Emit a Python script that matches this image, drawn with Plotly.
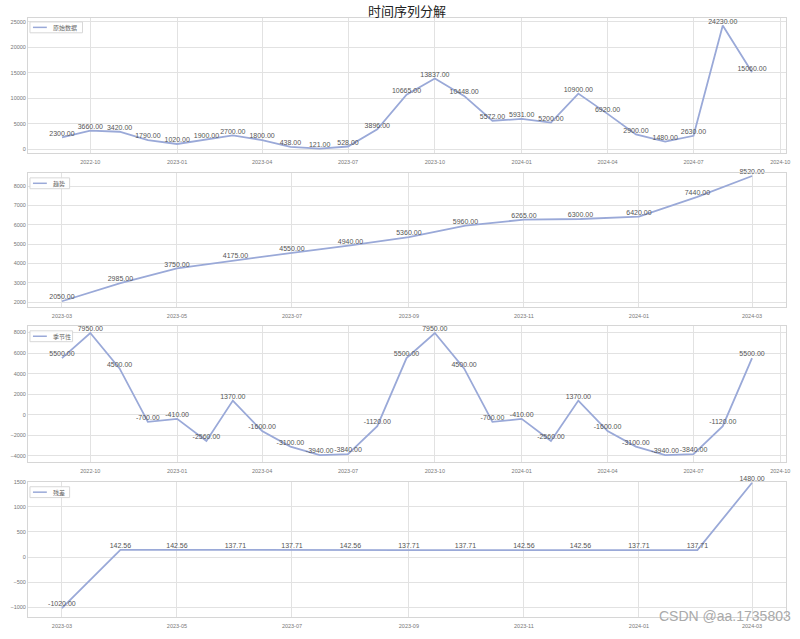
import pandas as pd
import plotly.graph_objects as go

# ---------------- data ----------------
months_full = pd.date_range("2022-09-01", periods=25, freq="MS")
months_mid = pd.date_range("2023-03-01", periods=13, freq="MS")

original = [2300, 3660, 3420, 1790, 1020, 1900, 2700, 1800, 438, 121, 528, 3896,
            10665, 13837, 10448, 5572, 5931, 5200, 10900, 6920, 2900, 1480, 2630,
            24230, 15060]
trend = [2050, 2985, 3750, 4175, 4550, 4940, 5360, 5960, 6265, 6300, 6420, 7440, 8520]
seasonal = [5500, 7950, 4500, -700, -410, -2560, 1370, -1600, -3100, -3940, -3840, -1120,
            5500, 7950, 4500, -700, -410, -2560, 1370, -1600, -3100, -3940, -3840, -1120,
            5500]
residual = [-1020, 142.56, 142.56, 137.71, 137.71, 142.56, 137.71, 137.71, 142.56,
            142.56, 137.71, 137.71, 1480]

names = ["原始数据", "趋势", "季节性", "残差"]

# ---------------- style ----------------
LINE = "#9aa9d8"
GRID = "#e2e2e2"
FRAME = "#d6d6d6"
TXT = "#555555"
TICKF = dict(family="Liberation Sans", size=5.5, color="#777777")

W, H = 800, 639
# plot area in screenshot pixels: x 25..790, y 18..625
ML, MT = 25, 18
MR = W - 790
MB = H - 625
PW, PH = W - ML - MR, H - MT - MB


def px(xs):
    return (xs - ML) / PW


def py(ys):
    return (H - MB - ys) / PH


series = [
    (months_full, original, names[0]),
    (months_mid, trend, names[1]),
    (months_full, seasonal, names[2]),
    (months_mid, residual, names[3]),
]

domains = [[py(155), 1.0], [py(311), py(175)], [py(468), py(330)], [0.0, py(488)]]
y_ranges = [[-780, 25700], [1745, 8680], [-4610, 8640], [-1196, 1500]]
y_dticks = [5000, 1000, 2000, 500]
x_ranges = [["2022-07-27", "2024-10-07"], ["2023-02-11", "2024-03-19"],
            ["2022-07-27", "2024-10-07"], ["2023-02-11", "2024-03-19"]]
x_tick0 = ["2022-10-01", "2023-03-01", "2022-10-01", "2023-03-01"]
x_dtick = ["M3", "M2", "M3", "M2"]
# legend boxes (screenshot pixels): left, right, top, bottom
leg_boxes = [(27, 80, 22, 33), (27, 67, 180, 191), (27, 70, 335, 346), (27, 67, 493, 504)]

fig = go.Figure()
layout = {}
shapes = []
annotations = []
for i, (xs, ys, nm) in enumerate(series):
    k = "" if i == 0 else str(i + 1)
    fig.add_trace(go.Scatter(
        x=xs, y=ys, name=nm, mode="lines+text",
        line=dict(color=LINE, width=1.8),
        texttemplate="%{y:.2f}", textposition="top center",
        textfont=dict(family="Liberation Sans", size=7, color=TXT),
        cliponaxis=False, hoverinfo="skip",
        xaxis="x" + k, yaxis="y" + k,
        showlegend=False,
    ))
    layout["xaxis" + k] = dict(
        domain=[0, 1], anchor="y" + k, type="date",
        range=x_ranges[i], tick0=x_tick0[i], dtick=x_dtick[i],
        tickformat="%Y-%m", tickfont=TICKF, ticks="", ticklabelstandoff=3,
        showgrid=True, gridcolor=GRID, gridwidth=1,
        showline=True, mirror=True, linecolor=FRAME, linewidth=1,
        zeroline=False,
    )
    layout["yaxis" + k] = dict(
        domain=domains[i], anchor="x" + k,
        range=y_ranges[i], tick0=0, dtick=y_dticks[i], tickformat="d",
        tickfont=TICKF, ticks="",
        showgrid=True, gridcolor=GRID, gridwidth=1,
        showline=True, mirror=True, linecolor=FRAME, linewidth=1,
        zeroline=False,
    )
    l, r, t, b = leg_boxes[i]
    shapes.append(dict(type="rect", xref="paper", yref="paper",
                       x0=px(l), x1=px(r), y0=py(b), y1=py(t),
                       line=dict(color="#d8d8d8", width=1),
                       fillcolor="rgba(255,255,255,0.9)", layer="above"))
    ym = py((t + b) / 2)
    shapes.append(dict(type="line", xref="paper", yref="paper",
                       x0=px(l + 3), x1=px(l + 17), y0=ym, y1=ym,
                       line=dict(color=LINE, width=1.5), layer="above"))
    annotations.append(dict(text=nm, xref="paper", yref="paper",
                            x=px(l + 21), y=ym, xanchor="left", yanchor="middle",
                            showarrow=False,
                            font=dict(family="Noto Sans CJK SC", size=6, color="#666666")))

annotations.append(dict(text="时间序列分解", xref="paper", yref="paper",
                        x=0.5, y=py(10), xanchor="center", yanchor="middle",
                        showarrow=False,
                        font=dict(family="Noto Sans CJK SC", size=13, color="#222222")))
annotations.append(dict(text="CSDN @aa.1735803", xref="paper", yref="paper",
                        x=px(797), y=py(624), xanchor="right", yanchor="middle",
                        showarrow=False,
                        font=dict(family="Liberation Sans", size=14, color="#aaaaaa")))

fig.update_layout(**layout)
fig.update_layout(
    width=W, height=H,
    margin=dict(l=ML, r=MR, t=MT, b=MB),
    paper_bgcolor="white", plot_bgcolor="white",
    hovermode=False,
    shapes=shapes,
    annotations=annotations,
)

fig.write_html("out.html",
               config={"displayModeBar": False, "staticPlot": True},
               post_script="document.documentElement.style.margin='0px';"
                           "document.body.style.margin='0px';"
                           "document.body.style.overflow='hidden';"
                           "document.documentElement.style.overflow='hidden';")
